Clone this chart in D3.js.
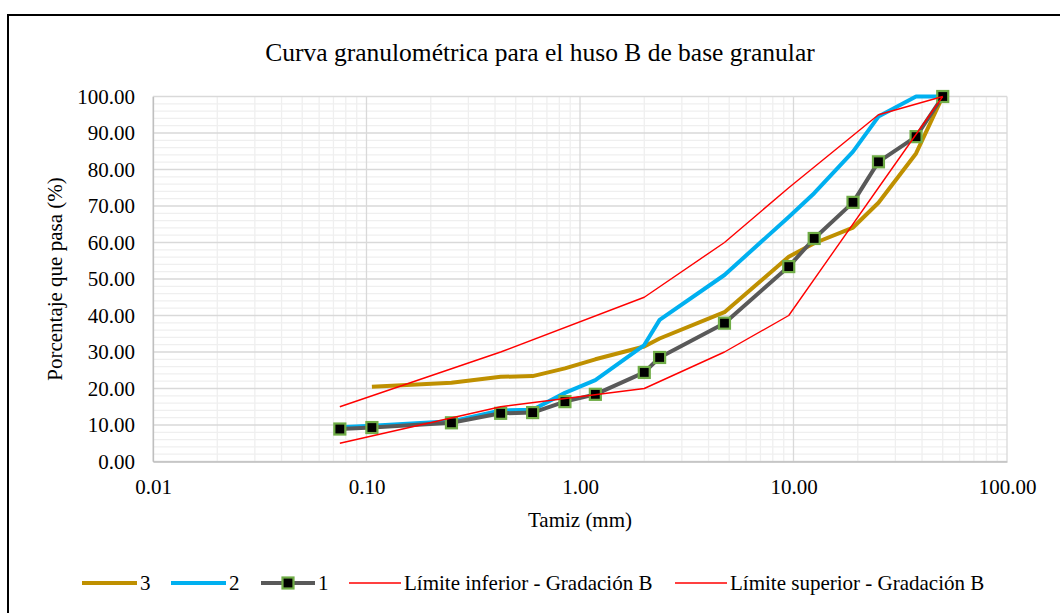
<!DOCTYPE html>
<html>
<head>
<meta charset="utf-8">
<script src="https://cdn.jsdelivr.net/npm/d3@7"></script>
<style>
  body { margin: 0; background: #fff; }
  text { font-family: "Liberation Serif", "Times New Roman", serif; fill: #000; }
</style>
</head>
<body>
<svg id="chart"></svg>
<script>
// sieve openings (mm) and % passing
var sieves = [0.075, 0.106, 0.25, 0.425, 0.6, 0.85, 1.18, 2.0, 2.36, 4.75, 9.5, 12.5, 19, 25, 37.5, 50];
var serie1 = [8.9, 9.3, 10.6, 13.2, 13.4, 16.4, 18.4, 24.4, 28.5, 37.9, 53.4, 61.1, 71.0, 82.1, 89.0, 100];
var serie2 = [9.4, 9.8, 11.0, 14.0, 14.2, 18.8, 22.3, 31.9, 38.8, 51.1, 67.0, 73.5, 84.9, 94.5, 100, 100];
var serie3 = [null, 20.5, 21.6, 23.2, 23.4, 25.5, 28.0, 31.5, 33.7, 40.9, 56.1, 59.8, 64.1, 70.9, 84.4, 100];

// huso B limits
var limSieves = [0.075, 0.425, 2.0, 4.75, 9.5, 25, 50];
var limInferior = [5, 15, 20, 30, 40, 75, 100];
var limSuperior = [15, 30, 45, 60, 75, 95, 100];

var xTicks = [0.01, 0.1, 1, 10, 100];
var yTicks = [0, 10, 20, 30, 40, 50, 60, 70, 80, 90, 100];

var screen = {width: 1060, height: 613};
var margins = {left: 153, right: 53, top: 96.5, bottom: 151.5};
var graph = {
    width: screen.width - margins.left - margins.right,
    height: screen.height - margins.top - margins.bottom
};

var svg = d3.select("#chart")
    .attr("width", screen.width)
    .attr("height", screen.height);

// outer frame
svg.append("rect")
    .attr("x", 8).attr("y", 15)
    .attr("width", 1200).attr("height", 800)
    .attr("fill", "none")
    .attr("stroke", "#000")
    .attr("stroke-width", 2);

var xScale = d3.scaleLog().domain([0.01, 100]).range([0, graph.width]);
var yScale = d3.scaleLinear().domain([0, 100]).range([graph.height, 0]);

var target = svg.append("g")
    .attr("transform", "translate(" + margins.left + "," + margins.top + ")");

// minor grid
var minorX = [];
for (var d = 0.01; d < 100; d *= 10) {
    for (var k = 2; k <= 9; k++) minorX.push(d * k);
}
var minorY = d3.range(0, 101, 2).filter(function (v) { return v % 10 != 0; });

var grid = target.append("g");
grid.selectAll(".mx").data(minorX).enter().append("line")
    .attr("x1", xScale).attr("x2", xScale)
    .attr("y1", 0).attr("y2", graph.height)
    .attr("stroke", "#efefef").attr("stroke-width", 1.3);
grid.selectAll(".my").data(minorY).enter().append("line")
    .attr("x1", 0).attr("x2", graph.width)
    .attr("y1", yScale).attr("y2", yScale)
    .attr("stroke", "#efefef").attr("stroke-width", 1.3);
grid.selectAll(".gx").data(xTicks).enter().append("line")
    .attr("x1", xScale).attr("x2", xScale)
    .attr("y1", 0).attr("y2", graph.height)
    .attr("stroke", "#d9d9d9").attr("stroke-width", 1.3);
grid.selectAll(".gy").data(yTicks).enter().append("line")
    .attr("x1", 0).attr("x2", graph.width)
    .attr("y1", yScale).attr("y2", yScale)
    .attr("stroke", "#d9d9d9").attr("stroke-width", 1.3);

// axes (labels only, lines are grid)
var xAxis = d3.axisBottom(xScale).tickValues(xTicks).tickSize(0).tickPadding(18)
    .tickFormat(d3.format(".2f"));
var yAxis = d3.axisLeft(yScale).tickValues(yTicks).tickSize(0).tickPadding(18)
    .tickFormat(d3.format(".2f"));

var gx = target.append("g")
    .attr("transform", "translate(0," + graph.height + ")")
    .call(xAxis);
var gy = target.append("g").call(yAxis);
[gx, gy].forEach(function (a) {
    a.select(".domain").attr("stroke", "#bfbfbf").attr("stroke-width", 1.3);
    a.selectAll("text").style("font-size", "21px")
        .style("font-family", "'Liberation Serif', serif").attr("fill", "#000");
});

var line = d3.line()
    .defined(function (p) { return p[1] != null; })
    .x(function (p) { return xScale(p[0]); })
    .y(function (p) { return yScale(p[1]); });

var pairs = function (xs, ys) {
    return xs.map(function (x, i) { return [x, ys[i]]; });
};

var drawLine = function (xs, ys, color, width) {
    target.append("path")
        .attr("d", line(pairs(xs, ys)))
        .attr("fill", "none")
        .attr("stroke", color)
        .attr("stroke-width", width)
        .attr("stroke-linejoin", "round");
};

drawLine(sieves, serie3, "#bf9000", 4);
drawLine(sieves, serie2, "#00b0f0", 4);
drawLine(sieves, serie1, "#595959", 4);

var ms = 11;
target.selectAll(".marker")
    .data(pairs(sieves, serie1))
    .enter().append("rect")
    .attr("x", function (p) { return xScale(p[0]) - ms / 2; })
    .attr("y", function (p) { return yScale(p[1]) - ms / 2; })
    .attr("width", ms).attr("height", ms)
    .attr("fill", "#000")
    .attr("stroke", "#70ad47")
    .attr("stroke-width", 2.2);

drawLine(limSieves, limInferior, "#ff0000", 1.4);
drawLine(limSieves, limSuperior, "#ff0000", 1.4);

// titles
svg.append("text")
    .text("Curva granulométrica para el huso B de base granular")
    .attr("x", 540).attr("y", 61)
    .attr("text-anchor", "middle")
    .style("font-size", "25.5px");

svg.append("text")
    .text("Tamiz (mm)")
    .attr("x", margins.left + graph.width / 2).attr("y", 527)
    .attr("text-anchor", "middle")
    .style("font-size", "21px");

svg.append("g")
    .attr("transform", "translate(62," + (margins.top + graph.height / 2) + ")")
    .append("text")
    .text("Porcentaje que pasa (%)")
    .attr("text-anchor", "middle")
    .attr("transform", "rotate(270)")
    .style("font-size", "21px");

// legend
var legendItems = [
    {name: "3", color: "#bf9000", width: 4, x: 82},
    {name: "2", color: "#00b0f0", width: 4, x: 171},
    {name: "1", color: "#595959", width: 4, x: 261, marker: true},
    {name: "Límite inferior - Gradación B", color: "#ff0000", width: 1.4, x: 349},
    {name: "Límite superior - Gradación B", color: "#ff0000", width: 1.4, x: 675}
];
var ly = 583;
var legend = svg.append("g");
legendItems.forEach(function (it) {
    var len = it.marker ? 54 : (it.width > 2 ? 55 : 52);
    legend.append("line")
        .attr("x1", it.x).attr("x2", it.x + len)
        .attr("y1", ly).attr("y2", ly)
        .attr("stroke", it.color)
        .attr("stroke-width", it.width);
    if (it.marker) {
        legend.append("rect")
            .attr("x", it.x + len / 2 - ms / 2).attr("y", ly - ms / 2)
            .attr("width", ms).attr("height", ms)
            .attr("fill", "#000").attr("stroke", "#70ad47").attr("stroke-width", 2.2);
    }
    legend.append("text")
        .text(it.name)
        .attr("x", it.x + len + 3).attr("y", ly + 7)
        .style("font-size", "21px");
});
</script>
</body>
</html>
